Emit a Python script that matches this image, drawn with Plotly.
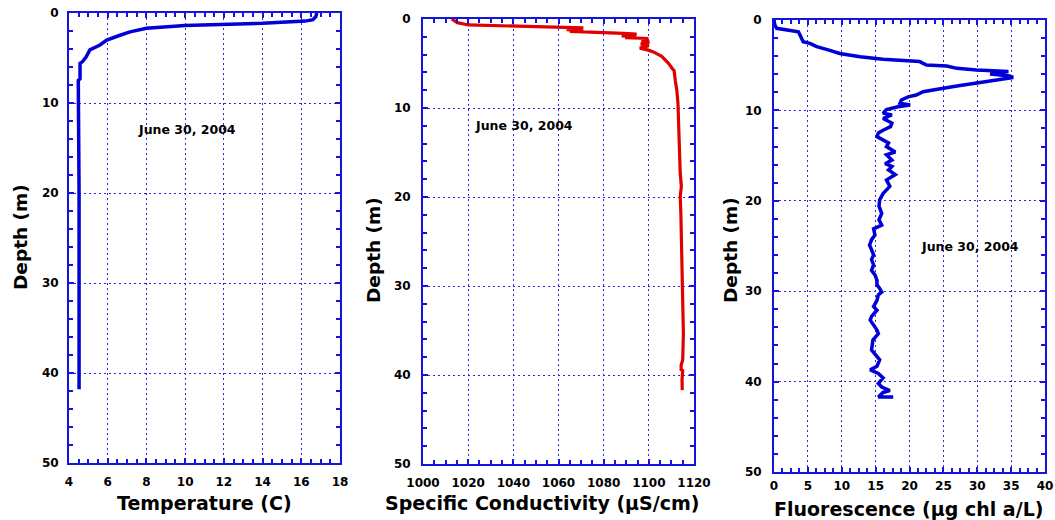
import plotly.graph_objects as go

# Temperature profile (deg C vs depth m)
temp_c = [16.8, 16.75, 16.6, 16.2, 14.0, 10.0, 8.0, 7.15, 6.6, 6.2, 5.95, 5.6, 5.08,
          4.88, 4.7, 4.57, 4.58, 4.57, 4.48, 4.52, 4.52]
temp_depth = [0, 0.4, 0.75, 0.9, 1.15, 1.4, 1.7, 2.1, 2.5, 2.8, 3.0, 3.55, 4.1,
              4.9, 5.4, 5.6, 6.3, 7.3, 7.5, 20, 41.8]

# Specific conductivity profile (uS/cm vs depth m)
cond = [1012.7, 1013.7, 1015.2, 1020.1, 1041.5, 1063.6, 1071.0, 1063.6, 1071.0, 1065.0,
        1080.0, 1088.7, 1094.6, 1088.0, 1094.3, 1089.5, 1099.8, 1096.8, 1100.2, 1096.4,
        1100.0, 1096.0, 1099.8, 1102.0, 1105.7, 1108.7, 1110.2, 1111.2, 1111.7, 1112.4,
        1112.9, 1113.2, 1113.6, 1113.9, 1114.4, 1113.9, 1114.2, 1114.5, 1114.8, 1115.0,
        1115.3, 1115.0, 1114.3, 1114.3, 1115.0, 1114.7, 1114.8]
cond_depth = [0, 0.19, 0.41, 0.67, 0.79, 0.94, 1.0, 1.2, 1.3, 1.4,
              1.5, 1.61, 1.69, 1.91, 1.99, 2.1, 2.19, 2.4, 2.6, 2.8,
              3.0, 3.27, 3.5, 3.7, 4.2, 4.98, 5.5, 5.8, 6.9, 8.0,
              9.5, 12.1, 14.7, 17.3, 18.8, 19.96, 22.0, 25.0, 28.0, 31.6,
              35.3, 38.3, 38.9, 39.4, 39.5, 40.5, 41.7]

# Fluorescence profile (ug chl a/L vs depth m)
fluor = [0, 0.1, 0.4, 3.6, 3.84, 4.3, 5.3, 6.3, 8.0, 9.7, 12.7, 16.1, 21.5, 22.5, 25.5,
         27.0, 29.9, 34.6, 31.9, 34.8, 35.3, 32.9, 29.9, 27.0, 25.0, 23.0, 22.0, 21.0,
         19.8, 18.8, 18.6, 20.1, 18.3, 16.6, 16.1, 17.4, 16.1, 17.4, 17.2, 16.1, 15.4,
         15.2, 16.1, 16.9, 16.6, 17.9, 16.6, 17.4, 16.4, 17.4, 16.9, 17.9, 16.6, 17.1,
         16.1, 15.6, 15.5, 15.9, 15.5, 15.9, 14.7, 14.9, 14.4, 14.1, 14.4, 14.7, 14.4,
         14.7, 14.4, 14.9, 15.2, 15.2, 15.6, 15.9, 15.4, 15.2, 14.7, 15.2, 14.4, 14.2,
         15.2, 15.4, 14.6, 14.4, 15.6, 15.2, 14.2, 15.4, 16.1, 15.4, 15.9, 17.1, 16.1,
         15.4, 17.6]
fluor_depth = [0, 0.5, 0.92, 1.3, 1.66, 2.4, 2.58, 2.95, 3.3, 3.7, 4.06, 4.35, 4.6, 4.98,
               5.1, 5.35, 5.53, 5.7, 5.97, 6.2, 6.35, 6.6, 7.0, 7.3, 7.55, 7.74, 7.93,
               8.3, 8.5, 8.85, 9.2, 9.4, 9.6, 9.9, 10.3, 10.5, 10.9, 11.4, 11.8, 12.2,
               12.5, 12.9, 13.3, 13.6, 14.0, 14.6, 14.9, 15.5, 15.9, 16.2, 16.6, 17.1,
               17.7, 18.4, 19.2, 19.9, 20.6, 21.4, 22.1, 22.7, 23.1, 23.8, 24.3, 24.9,
               25.4, 26.0, 26.5, 27.1, 27.7, 28.2, 28.8, 29.3, 29.7, 30.1, 30.4, 31.0,
               31.7, 32.1, 32.8, 33.2, 34.3, 34.7, 35.4, 36.5, 37.6, 38.3, 38.7, 39.1,
               39.6, 40.2, 40.6, 41.0, 41.2, 41.7, 41.7]

date_label = "June 30, 2004"
depth_title = "Depth (m)"
x_titles = ["Temperature (C)", "Specific Conductivity (µS/cm)", "Fluorescence (µg chl a/L)"]

W, H = 1055, 520
FONT = "DejaVu Sans"
FRAME = "rgb(20,20,225)"
GRID = "rgb(40,40,230)"
CURVE_BLUE = "rgb(0,0,215)"
CURVE_RED = "rgb(225,0,0)"

# panel pixel boxes: left, right, top, bottom
boxes = [(69, 340, 13, 463), (423, 694, 19, 464), (774, 1045, 20, 472)]
# gap between frame and tick labels for the x and y axes of each panel
x_label_gap = [7, 7, 2]
y_label_gap = [6, 8, 8]


def xdom(b):
    return [b[0] / W, b[1] / W]


def ydom(b):
    return [1 - b[3] / H, 1 - b[2] / H]


def axis_style(**kw):
    d = dict(
        showline=True, linecolor=FRAME, linewidth=2, mirror="allticks",
        ticks="inside", ticklen=5, tickwidth=1.5, tickcolor=FRAME,
        showgrid=True, gridcolor=GRID, gridwidth=1, griddash="2px,3px",
        zeroline=False,
        tickfont=dict(family=FONT, size=12, color="black", weight="bold"),
    )
    d.update(kw)
    return d


fig = go.Figure()
fig.add_trace(go.Scatter(x=temp_c, y=temp_depth, mode="lines",
                         line=dict(color=CURVE_BLUE, width=3.5), xaxis="x", yaxis="y"))
fig.add_trace(go.Scatter(x=cond, y=cond_depth, mode="lines",
                         line=dict(color=CURVE_RED, width=3.2), xaxis="x2", yaxis="y2"))
fig.add_trace(go.Scatter(x=fluor, y=fluor_depth, mode="lines",
                         line=dict(color=CURVE_BLUE, width=3.5), xaxis="x3", yaxis="y3"))

x_specs = [(4, 18, 2, 0.5), (1000, 1120, 20, 5), (0, 40, 5, 1.25)]
layout = {}
for i, (b, xs) in enumerate(zip(boxes, x_specs)):
    sfx = "" if i == 0 else str(i + 1)
    lo, hi, dt, mdt = xs
    layout["xaxis" + sfx] = axis_style(
        domain=xdom(b), range=[lo, hi], dtick=dt, tick0=lo, anchor="y" + sfx,
        ticklabelstandoff=x_label_gap[i],
        minor=dict(ticks="inside", ticklen=4, dtick=mdt, tick0=lo, tickcolor=FRAME, showgrid=False),
    )
    layout["yaxis" + sfx] = axis_style(
        domain=ydom(b), range=[50, 0], dtick=10, tick0=0, anchor="x" + sfx,
        ticklabelstandoff=y_label_gap[i],
        minor=dict(ticks="inside", ticklen=4, dtick=2, tick0=0, tickcolor=FRAME, showgrid=False),
    )

annotations = []


def label(px, py, text, size, angle=0):
    annotations.append(dict(
        x=px / W, y=1 - py / H, xref="paper", yref="paper", text=text,
        xanchor="center", yanchor="middle", textangle=angle, showarrow=False,
        font=dict(family=FONT, size=size, color="black", weight="bold"),
    ))


# date labels
for px, py in [(187, 129), (524, 125), (970, 246)]:
    label(px, py, date_label, 12.5)
# depth titles
for px, py in [(21, 237), (373, 250), (730, 250)]:
    label(px, py, depth_title, 18.5, angle=-90)
# x titles
for (px, py), t in zip([(204, 503), (542, 503), (908, 509)], x_titles):
    label(px, py, t, 19)

fig.update_layout(
    template="none",
    width=W, height=H,
    margin=dict(l=0, r=0, t=0, b=0),
    paper_bgcolor="white", plot_bgcolor="white",
    showlegend=False,
    annotations=annotations,
    **layout,
)

fig.write_html("out.html")
